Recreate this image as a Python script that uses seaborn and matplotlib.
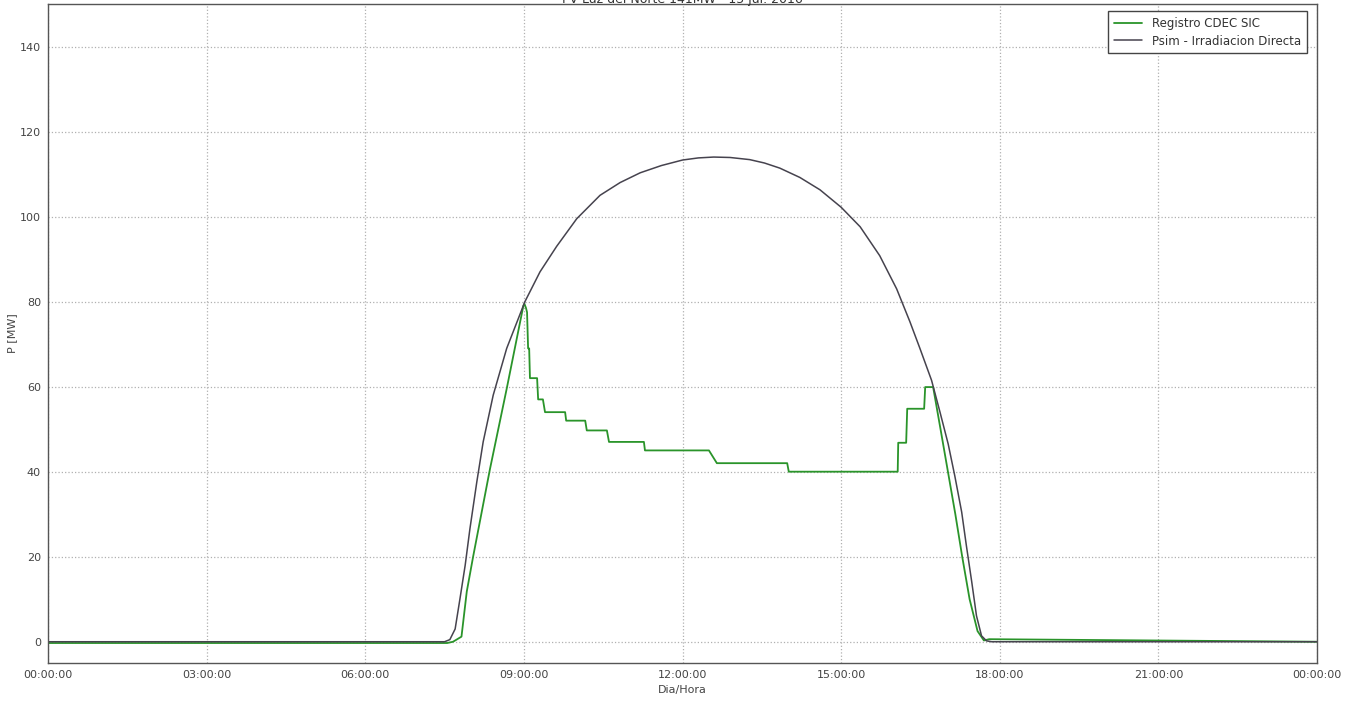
import numpy as np
import pandas as pd
import matplotlib
matplotlib.use("Agg")
import matplotlib.pyplot as plt
import seaborn as sns

# ---------------- data (hours of day, MW) ----------------
psim_hours = [0.0, 7.0, 7.50, 7.60, 7.70, 7.79, 7.89, 7.98, 8.11, 8.23, 8.42, 8.675,
              9.02, 9.305, 9.62, 10.0, 10.44, 10.82, 11.20, 11.60, 12.00, 12.30,
              12.59, 12.90, 13.27, 13.55, 13.84, 14.22, 14.60, 15.00, 15.36, 15.73,
              16.05, 16.30, 16.49, 16.71, 16.87, 17.025, 17.15, 17.28, 17.37, 17.47,
              17.56, 17.655, 17.75, 17.85, 24.0]
psim_mw = [0.0, 0.0, 0.0, 0.5, 3.0, 10.0, 18.0, 26.6, 37.6, 47.0, 58.0, 69.0,
           80.0, 87.0, 93.0, 99.5, 105.0, 108.0, 110.3, 112.0, 113.3, 113.8,
           114.0, 113.9, 113.4, 112.6, 111.4, 109.2, 106.3, 102.2, 97.6, 90.8,
           83.0, 75.3, 69.0, 61.5, 54.0, 46.5, 39.0, 30.5, 22.5, 14.1,
           6.1, 1.4, 0.2, 0.0, 0.0]

cdec_hours = [0.0, 7.0, 7.55, 7.66, 7.82, 7.92, 8.04, 8.36, 8.675, 8.99, 9.01,
              9.04, 9.06, 9.08, 9.10, 9.115, 9.25, 9.27, 9.36, 9.40, 9.78,
              9.80, 10.16, 10.19, 10.57, 10.61, 11.27, 11.29, 12.50, 12.65, 13.98,
              14.01, 16.07, 16.08, 16.23, 16.25, 16.57, 16.59, 16.74, 16.88, 17.02,
              17.16, 17.29, 17.43, 17.58, 17.70, 17.80, 24.0]
cdec_mw = [-0.3, -0.3, -0.3, 0.0, 1.2, 11.8, 20.0, 40.7, 59.5, 79.0, 79.5,
           78.5, 77.5, 69.0, 69.0, 62.0, 62.0, 57.0, 57.0, 54.0, 54.0,
           52.0, 52.0, 49.7, 49.7, 47.0, 47.0, 45.0, 45.0, 42.0, 42.0,
           40.0, 40.0, 46.8, 46.8, 54.8, 54.8, 59.9, 59.9, 50.0, 40.0,
           30.0, 20.0, 10.0, 2.5, 0.3, 0.6, 0.0]

xtick_hours = [0, 3, 6, 9, 12, 15, 18, 21, 24]
xtick_labels = ["00:00:00", "03:00:00", "06:00:00", "09:00:00", "12:00:00",
                "15:00:00", "18:00:00", "21:00:00", "00:00:00"]
ytick_values = [0, 20, 40, 60, 80, 100, 120, 140]

title = "PV Luz del Norte 141MW - 15 jul. 2016"
label_cdec = "Registro CDEC SIC"
label_psim = "Psim - Irradiacion Directa"

# ---------------- style ----------------
sns.set_theme(style="whitegrid")
plt.rcParams["font.family"] = ["DejaVu Sans"]
plt.rcParams.update({
    "grid.linestyle": ":",
    "grid.color": "#b0b0b0",
    "grid.linewidth": 0.9,
    "axes.edgecolor": "#555555",
    "axes.linewidth": 1.0,
})

fig = plt.figure(figsize=(13.62, 7.02), dpi=100)
ax = fig.add_axes([48 / 1362, 1 - 663 / 702, (1317 - 48) / 1362, (663 - 4) / 702])

df_c = pd.DataFrame({"h": cdec_hours, "p": cdec_mw})
df_p = pd.DataFrame({"h": psim_hours, "p": psim_mw})

sns.lineplot(data=df_c, x="h", y="p", ax=ax, sort=False, estimator=None,
             color="#2a942a", linewidth=1.3, label=label_cdec)
sns.lineplot(data=df_p, x="h", y="p", ax=ax, sort=False, estimator=None,
             color="#46434e", linewidth=1.1, label=label_psim)

ax.set_xlim(0, 24)
ax.set_ylim(-5, 150)
ax.set_xticks(xtick_hours)
ax.set_xticklabels(xtick_labels)
ax.set_yticks(ytick_values)
ax.tick_params(axis="both", labelsize=8, colors="#444444", direction="in",
               length=4, width=0.8, pad=5)
for s in ax.spines.values():
    s.set_visible(True)
    s.set_color("#555555")

ax.set_xlabel("Dia/Hora", fontsize=8, color="#444444", labelpad=4)
ax.set_ylabel("P [MW]", fontsize=8, color="#444444")
ax.yaxis.set_label_coords(-0.0245, 0.5)
ax.set_title(title, fontsize=9, color="#333333", pad=1)

leg = ax.legend(loc="upper right", fontsize=8.5, frameon=True, fancybox=False,
                handlelength=2.4, borderpad=0.5, labelspacing=0.4,
                bbox_to_anchor=(0.9965, 0.9985))
leg.get_frame().set_edgecolor("#444444")
leg.get_frame().set_linewidth(1.0)
leg.get_frame().set_alpha(1.0)
for t in leg.get_texts():
    t.set_color("#333333")

fig.savefig("out.png", dpi=100)
